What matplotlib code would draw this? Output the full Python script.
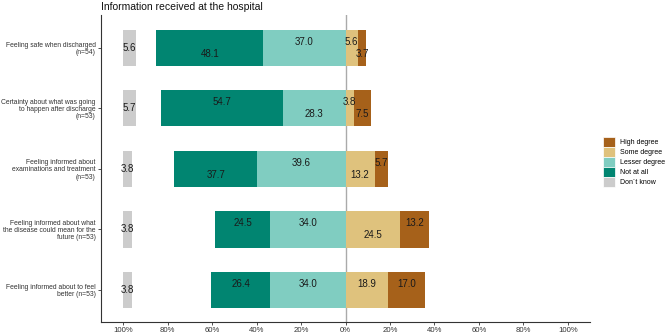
import numpy as np
import matplotlib.pyplot as plt
from matplotlib.patches import Patch

plt.rcParams['font.family'] = ['Liberation Sans', 'DejaVu Sans']

items = [
    "Feeling safe when discharged\n(n=54)",
    "Certainty about what was going\nto happen after discharge\n(n=53)",
    "Feeling informed about\nexaminations and treatment\n(n=53)",
    "Feeling informed about what\nthe disease could mean for the\nfuture (n=53)",
    "Feeling informed about to feel\nbetter (n=53)",
]
not_at_all = [48.1, 54.7, 37.7, 24.5, 26.4]
lesser = [37.0, 28.3, 39.6, 34.0, 34.0]
some = [5.6, 3.8, 13.2, 24.5, 18.9]
high = [3.7, 7.5, 5.7, 13.2, 17.0]
dont_know = [5.6, 5.7, 3.8, 3.8, 3.8]
xticks = [-100, -80, -60, -40, -20, 0, 20, 40, 60, 80, 100]
xticklabels = ["100%", "80%", "60%", "40%", "20%", "0%", "20%", "40%", "60%", "80%", "100%"]

colors = {"High degree": "#A6611A", "Some degree": "#DFC27D",
          "Lesser degree": "#80CDC1", "Not at all": "#018571",
          "Don\u00b4t know": "#CCCCCC"}

# vertical nudge of the value labels (-1 up, +1 down), columns: not, lesser, some, high
shift = [[1, -1, -1, 1],
         [-1, 1, -1, 1],
         [1, -1, 1, -1],
         [-1, -1, 1, -1],
         [-1, -1, -1, -1]]

fig = plt.figure(figsize=(6.67, 3.33), dpi=100)
ax = fig.add_axes([101 / 667, 11 / 333, 489 / 667, 307 / 333])

y = np.arange(len(items))
na = np.array(not_at_all)
le = np.array(lesser)
so = np.array(some)
hi = np.array(high)
dk = np.array(dont_know)
h = 0.6

ax.barh(y, -le, height=h, color=colors["Lesser degree"])
ax.barh(y, -na, left=-le, height=h, color=colors["Not at all"])
ax.barh(y, so, height=h, color=colors["Some degree"])
ax.barh(y, hi, left=so, height=h, color=colors["High degree"])
ax.barh(y, dk, left=-100, height=h, color=colors["Don\u00b4t know"])

ax.axvline(0, color="#AAAAAA", lw=1.0, zorder=0.5)

d = 0.1
fs = 7
for i in range(len(items)):
    segs = [(-le[i] - na[i] / 2, na[i]), (-le[i] / 2, le[i]),
            (so[i] / 2, so[i]), (so[i] + hi[i] / 2, hi[i])]
    for j, (xc, v) in enumerate(segs):
        ax.text(xc, y[i] + shift[i][j] * d, f"{v:.1f}", ha="center", va="center",
                fontsize=fs, color="#1a1a1a")
    ax.text(-100 + dk[i] / 2, y[i], f"{dk[i]:.1f}", ha="center", va="center",
            fontsize=fs, color="#1a1a1a")

ax.set_xlim(-110, 110)
ax.set_ylim(4.53, -0.54)
ax.set_yticks(y)
ax.set_yticklabels(items, fontsize=4.9, color="#333333", linespacing=1.05)
ax.set_xticks(xticks)
ax.set_xticklabels(xticklabels, fontsize=5.6, color="#333333")
ax.tick_params(axis="both", length=2.2, width=0.6, color="#333333", pad=1.5)
for s in ["top", "right"]:
    ax.spines[s].set_visible(False)
for s in ["left", "bottom"]:
    ax.spines[s].set_color("#333333")
    ax.spines[s].set_linewidth(0.8)

fig.text(101 / 667, 1 - 7 / 333, "Information received at the hospital",
         fontsize=7.5, ha="left", va="center", color="#111111")

handles = [Patch(facecolor=c, edgecolor="white", linewidth=0.5) for c in colors.values()]
fig.legend(handles, list(colors.keys()), loc="upper left",
           bbox_to_anchor=(603 / 667, 1 - 137 / 333), frameon=False,
           fontsize=5, handlelength=1.75, handleheight=1.85, labelspacing=0,
           handletextpad=0.7, borderpad=0, borderaxespad=0)

fig.savefig("out.png", dpi=100)
